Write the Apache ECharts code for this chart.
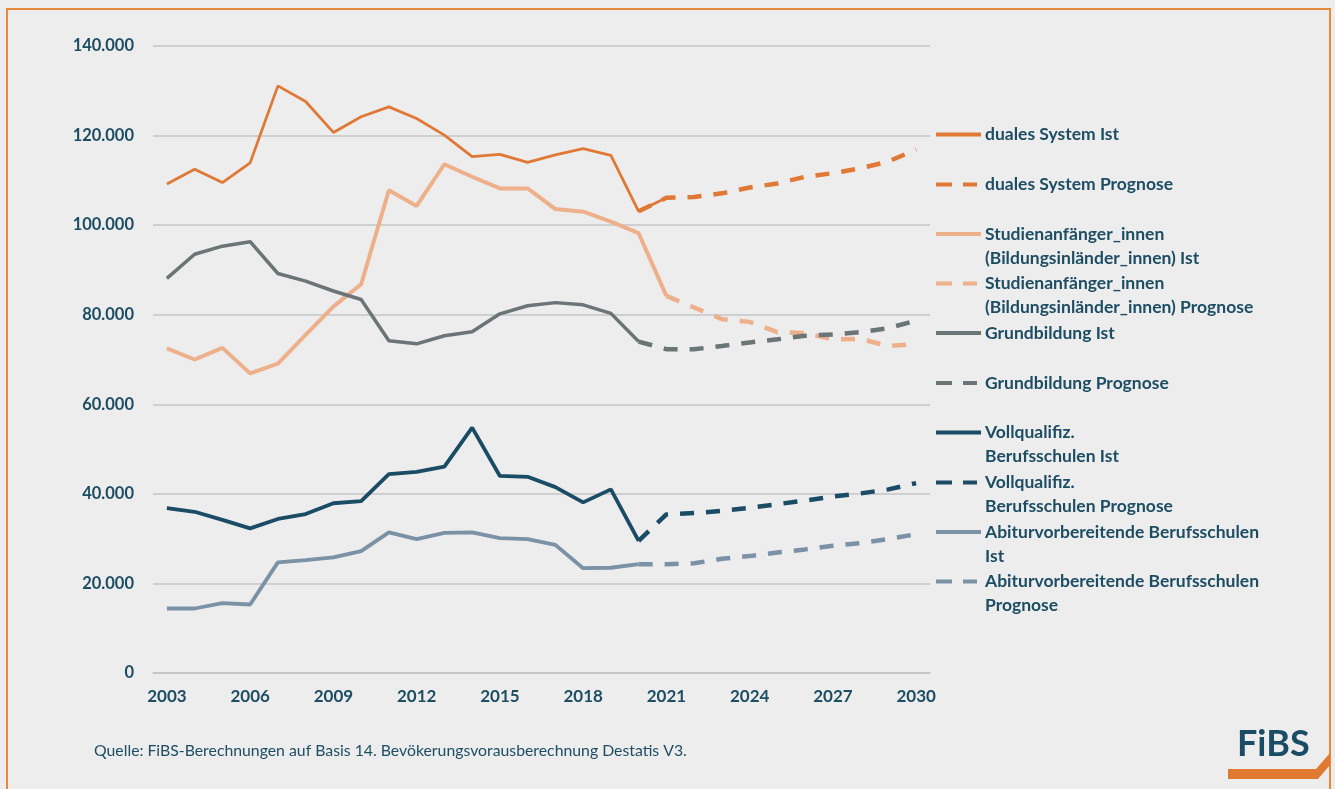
<!DOCTYPE html>
<html>
<head>
<meta charset="utf-8">
<script src="https://cdn.jsdelivr.net/npm/echarts@6/dist/echarts.min.js"></script>
<style>
  html, body { margin: 0; padding: 0; background: #ededed; }
  #main { width: 1335px; height: 789px; }
</style>
</head>
<body>
<div id="main"></div>
<script>
// Jahre 2003 - 2030
var years = [];
for (var y = 2003; y <= 2030; y++) years.push(String(y));

// Ist-Werte ab 2003, Prognose ab dem angegebenen Startjahr (Tausend)
var dualIst = [109.2, 112.5, 109.5, 113.9, 131.1, 127.6, 120.7, 124.2, 126.4, 123.8, 120.1, 115.3, 115.8, 114.0, 115.7, 117.1, 115.6, 103.1, 106.1];
var dualPrognose = [103.1, 106.1, 106.3, 107.1, 108.4, 109.3, 110.8, 111.6, 112.7, 114.2, 116.9];          // ab 2020
var studienIst = [72.5, 70.0, 72.6, 66.9, 69.1, 75.5, 81.8, 86.8, 107.8, 104.3, 113.6, 110.8, 108.2, 108.2, 103.6, 103.0, 100.8, 98.2, 84.2];
var studienPrognose = [84.2, 81.6, 79.0, 78.4, 76.1, 75.9, 74.5, 74.6, 73.0, 73.5];                         // ab 2021
var grundIst = [88.1, 93.5, 95.3, 96.3, 89.2, 87.5, 85.3, 83.4, 74.2, 73.5, 75.3, 76.2, 80.2, 82.0, 82.7, 82.2, 80.3, 74.0];
var grundPrognose = [74.0, 72.3, 72.3, 73.0, 73.8, 74.5, 75.3, 75.6, 76.1, 77.0, 78.7];                     // ab 2020
var vollIst = [36.8, 36.0, 34.2, 32.3, 34.4, 35.5, 37.9, 38.4, 44.4, 44.9, 46.1, 54.8, 44.0, 43.8, 41.5, 38.1, 41.0, 29.5];
var vollPrognose = [29.5, 35.4, 35.7, 36.2, 36.9, 37.7, 38.5, 39.4, 40.1, 41.0, 42.4];                      // ab 2020
var abiIst = [14.4, 14.4, 15.6, 15.3, 24.7, 25.2, 25.8, 27.2, 31.4, 29.9, 31.3, 31.4, 30.1, 29.9, 28.6, 23.4, 23.5, 24.3];
var abiPrognose = [24.3, 24.3, 24.5, 25.5, 26.1, 26.9, 27.6, 28.4, 29.0, 29.9, 31.0];                       // ab 2020

var yTicks = [0, 20000, 40000, 60000, 80000, 100000, 120000, 140000];

var textColor = '#1d4d63';
var fontName = 'Lato';

// Werte auf die Jahresachse legen
function place(values, startYear) {
  var out = [];
  for (var i = 0; i < years.length; i++) {
    var k = 2003 + i - startYear;
    out.push(k >= 0 && k < values.length ? Math.round(values[k] * 1000) : null);
  }
  return out;
}

function fmt(v) {
  return String(v).replace(/\B(?=(\d{3})+(?!\d))/g, '.');
}

var defs = [
  {name: 'duales System Ist', label: 'duales System Ist', data: place(dualIst, 2003), color: '#e07935', width: 2.8, dash: false},
  {name: 'duales System Prognose', label: 'duales System Prognose', data: place(dualPrognose, 2020), color: '#e07935', width: 4.5, dash: true},
  {name: 'Studienanfänger_innen (Bildungsinländer_innen) Ist', label: 'Studienanfänger_innen\n(Bildungsinländer_innen) Ist', data: place(studienIst, 2003), color: '#edb08b', width: 4, dash: false},
  {name: 'Studienanfänger_innen (Bildungsinländer_innen) Prognose', label: 'Studienanfänger_innen\n(Bildungsinländer_innen) Prognose', data: place(studienPrognose, 2021), color: '#edb08b', width: 4.5, dash: true},
  {name: 'Grundbildung Ist', label: 'Grundbildung Ist', data: place(grundIst, 2003), color: '#6b7477', width: 3.5, dash: false},
  {name: 'Grundbildung Prognose', label: 'Grundbildung Prognose', data: place(grundPrognose, 2020), color: '#6b7477', width: 4.5, dash: true},
  {name: 'Vollqualifiz. Berufsschulen Ist', label: 'Vollqualifiz.\nBerufsschulen Ist', data: place(vollIst, 2003), color: '#1a4c65', width: 3.8, dash: false},
  {name: 'Vollqualifiz. Berufsschulen Prognose', label: 'Vollqualifiz.\nBerufsschulen Prognose', data: place(vollPrognose, 2020), color: '#1a4c65', width: 4.5, dash: true},
  {name: 'Abiturvorbereitende Berufsschulen Ist', label: 'Abiturvorbereitende Berufsschulen\nIst', data: place(abiIst, 2003), color: '#7a91a6', width: 3.8, dash: false},
  {name: 'Abiturvorbereitende Berufsschulen Prognose', label: 'Abiturvorbereitende Berufsschulen\nPrognose', data: place(abiPrognose, 2020), color: '#7a91a6', width: 4.5, dash: true}
];

var legendCenters = [134.5, 184.5, 234, 283.5, 333, 383, 432.5, 482.5, 532, 581.5];
var lineH = 24;
var solidIcon = 'path://M0,0H45V4H0Z';
var dashIcon = 'path://M0,0H16V4H0Z M27,0H41V4H27Z M45,0L45,4';

var series = defs.map(function (d) {
  return {
    name: d.name,
    type: 'line',
    data: d.data,
    symbol: 'none',
    connectNulls: false,
    color: d.color,
    lineStyle: {color: d.color, width: d.width, type: d.dash ? [14, 12] : 'solid', cap: 'butt'},
    z: d.dash ? 3 : 2
  };
});

var legends = defs.map(function (d, i) {
  var twoLines = d.label.indexOf('\n') >= 0;
  return {
    orient: 'vertical',
    left: 936,
    top: legendCenters[i] - (twoLines ? 1.5 * lineH : 0.5 * lineH),
    padding: 0,
    itemWidth: 45,
    itemHeight: 4,
    itemGap: 0,
    icon: d.dash ? dashIcon : solidIcon,
    data: [d.name],
    formatter: function () { return twoLines ? '\n' + d.label : d.label; },
    textStyle: {color: textColor, fontFamily: fontName, fontWeight: 'bold', fontSize: 17.5, lineHeight: lineH, padding: [0, 0, 0, -1]}
  };
});

var myChart = echarts.init(document.getElementById('main'));

myChart.setOption({
  backgroundColor: '#ededed',
  animation: false,
  textStyle: {fontFamily: fontName},
  grid: {left: 153, right: 405, top: 46, bottom: 116},
  legend: legends,
  xAxis: {
    type: 'category',
    data: years,
    boundaryGap: true,
    axisTick: {show: false},
    axisLine: {lineStyle: {color: '#c4c4c4', width: 1.5}},
    axisLabel: {interval: 2, color: textColor, fontFamily: fontName, fontWeight: 'bold', fontSize: 17, margin: 15}
  },
  yAxis: {
    type: 'value',
    min: yTicks[0],
    max: yTicks[yTicks.length - 1],
    interval: yTicks[1] - yTicks[0],
    axisLine: {show: false},
    axisTick: {show: false},
    splitLine: {lineStyle: {color: '#c4c4c4', width: 1.5}},
    axisLabel: {color: textColor, fontFamily: fontName, fontWeight: 'bold', fontSize: 16.5, margin: 19, formatter: fmt}
  },
  series: series,
  graphic: [
    {type: 'rect', shape: {x: 7, y: 9, width: 1323, height: 800}, style: {fill: 'none', stroke: '#e88a3c', lineWidth: 2}, silent: true},
    {type: 'text', left: 94, top: 743, style: {text: 'Quelle: FiBS-Berechnungen auf Basis 14. Bevökerungsvorausberechnung Destatis V3.', fill: textColor, font: '15.8px ' + fontName}},
    {type: 'text', left: 1237, top: 726, style: {text: 'FiBS', fill: '#1a4c65', font: 'bold 36px ' + fontName}},
    {type: 'polygon', shape: {points: [[1228, 769], [1316, 769], [1330, 753], [1330, 765], [1318, 779], [1228, 779]]}, style: {fill: '#e07a30'}}
  ]
});
</script>
</body>
</html>
